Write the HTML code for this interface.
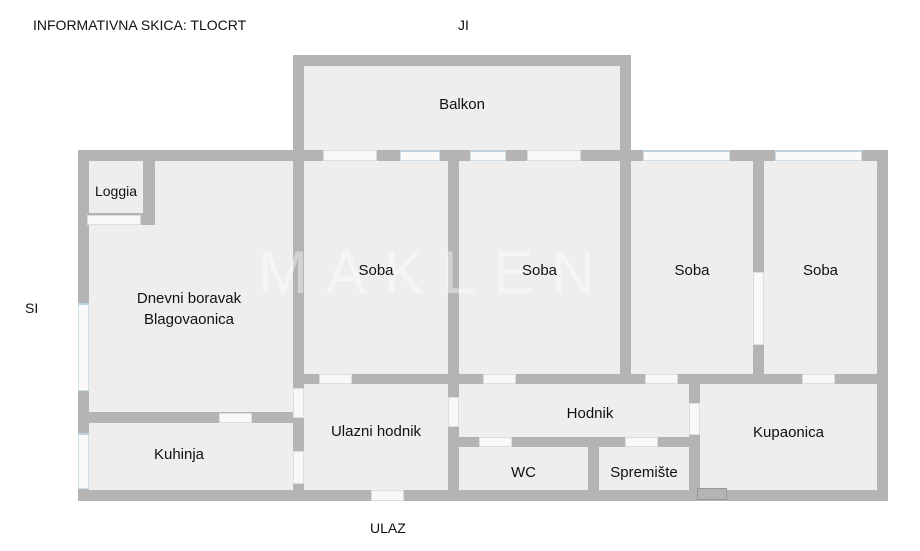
<!DOCTYPE html>
<html><head><meta charset="utf-8"><style>
body{margin:0;width:920px;height:551px;background:#fff;position:relative;overflow:hidden;font-family:"Liberation Sans",Arial,sans-serif;color:#111}
div{position:absolute;box-sizing:border-box}
.w{background:#b4b4b4}
.f{background:#eeeeee}
.o{background:#f8f8f8;border:1px solid #ddd}
.b{background:#fafafa;border:1px solid #cfe0ea;border-top:2px solid #bcd3df}
.t{font-size:15px;text-align:center;white-space:nowrap;line-height:18px}
</style></head><body>
<div class="t" style="left:33px;top:16px;font-size:14px;text-align:left">INFORMATIVNA SKICA: TLOCRT</div>
<div class="t" style="left:458px;top:16px;font-size:14px;text-align:left">JI</div>
<div class="t" style="left:25px;top:299px;font-size:14px;text-align:left">SI</div>
<div class="t" style="left:370px;top:519px;font-size:14px;text-align:left">ULAZ</div>

<div class="w" style="left:293px;top:55px;width:338px;height:106px"></div>
<div class="f" style="left:304px;top:66px;width:316px;height:84px"></div>
<div class="w" style="left:78px;top:150px;width:810px;height:351px"></div>
<div class="f" style="left:89px;top:161px;width:204px;height:251px"></div>
<div class="w" style="left:143px;top:161px;width:12px;height:64px"></div>
<div class="w" style="left:89px;top:213px;width:66px;height:12px"></div>
<div class="f" style="left:89px;top:423px;width:204px;height:67px"></div>
<div class="f" style="left:304px;top:161px;width:144px;height:213px"></div>
<div class="f" style="left:459px;top:161px;width:161px;height:213px"></div>
<div class="f" style="left:631px;top:161px;width:122px;height:213px"></div>
<div class="f" style="left:764px;top:161px;width:113px;height:213px"></div>
<div class="f" style="left:304px;top:384px;width:144px;height:106px"></div>
<div class="f" style="left:459px;top:384px;width:230px;height:53px"></div>
<div class="f" style="left:459px;top:447px;width:129px;height:43px"></div>
<div class="f" style="left:599px;top:447px;width:90px;height:43px"></div>
<div class="f" style="left:700px;top:384px;width:177px;height:106px"></div>

<div class="o" style="left:87px;top:215px;width:54px;height:10px"></div>
<div class="o" style="left:323px;top:150px;width:54px;height:11px"></div>
<div class="b" style="left:400px;top:150px;width:40px;height:11px"></div>
<div class="b" style="left:470px;top:150px;width:36px;height:11px"></div>
<div class="o" style="left:527px;top:150px;width:54px;height:11px"></div>
<div class="b" style="left:643px;top:150px;width:87px;height:11px"></div>
<div class="b" style="left:775px;top:150px;width:87px;height:11px"></div>
<div class="b" style="left:78px;top:303px;width:11px;height:88px"></div>
<div class="b" style="left:78px;top:433px;width:11px;height:56px"></div>
<div class="o" style="left:753px;top:272px;width:11px;height:73px"></div>
<div class="o" style="left:219px;top:413px;width:33px;height:10px"></div>
<div class="o" style="left:319px;top:374px;width:33px;height:10px"></div>
<div class="o" style="left:483px;top:374px;width:33px;height:10px"></div>
<div class="o" style="left:645px;top:374px;width:33px;height:10px"></div>
<div class="o" style="left:802px;top:374px;width:33px;height:10px"></div>
<div class="o" style="left:293px;top:388px;width:11px;height:30px"></div>
<div class="o" style="left:293px;top:451px;width:11px;height:33px"></div>
<div class="o" style="left:448px;top:397px;width:11px;height:30px"></div>
<div class="o" style="left:689px;top:403px;width:11px;height:32px"></div>
<div class="o" style="left:479px;top:437px;width:33px;height:10px"></div>
<div class="o" style="left:625px;top:437px;width:33px;height:10px"></div>
<div class="o" style="left:371px;top:490px;width:33px;height:11px"></div>
<div class="w" style="left:697px;top:488px;width:30px;height:12px;border:1px solid #999"></div>

<div class="t" style="left:258px;top:238px;font-size:60px;line-height:70px;letter-spacing:18px;color:rgba(255,255,255,0.4)">MAKLEN</div>

<div class="t" style="left:304px;top:96px;width:316px">Balkon</div>
<div class="t" style="left:89px;top:182px;width:54px;font-size:14px">Loggia</div>
<div class="t" style="left:89px;top:288px;width:200px;line-height:21px">Dnevni boravak<br>Blagovaonica</div>
<div class="t" style="left:304px;top:262px;width:144px">Soba</div>
<div class="t" style="left:459px;top:262px;width:161px">Soba</div>
<div class="t" style="left:631px;top:262px;width:122px">Soba</div>
<div class="t" style="left:764px;top:262px;width:113px">Soba</div>
<div class="t" style="left:304px;top:423px;width:144px">Ulazni hodnik</div>
<div class="t" style="left:89px;top:446px;width:180px">Kuhinja</div>
<div class="t" style="left:530px;top:405px;width:120px">Hodnik</div>
<div class="t" style="left:700px;top:424px;width:177px">Kupaonica</div>
<div class="t" style="left:459px;top:464px;width:129px">WC</div>
<div class="t" style="left:599px;top:464px;width:90px">Spremište</div>
</body></html>
